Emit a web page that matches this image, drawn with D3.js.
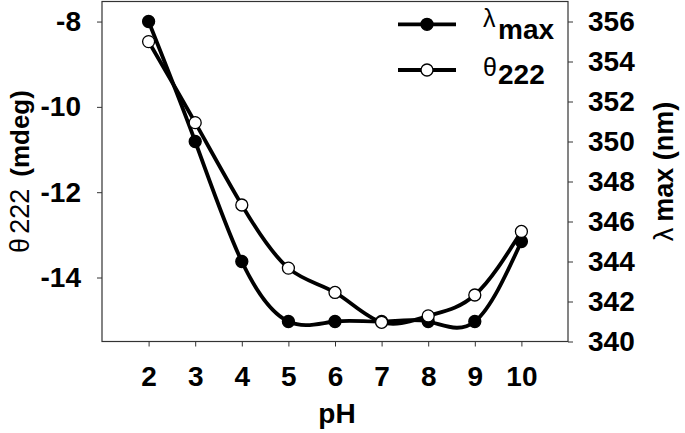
<!DOCTYPE html>
<html>
<head>
<meta charset="utf-8">
<script src="https://cdn.jsdelivr.net/npm/d3@7"></script>
<style>
  body { margin: 0; background: #fff; }
  svg { display: block; font-family: "Liberation Sans", Arial, sans-serif; }
</style>
</head>
<body>
<div id="my_dataviz"></div>
<script>
  // data
  const pH = [2, 3, 4, 5, 6, 7, 8, 9, 10]
  const lambdaMax = [356.0, 350.0, 344.0, 341.0, 341.0, 341.0, 341.0, 341.0, 345.0]
  const theta222 = [-8.47, -10.37, -12.30, -13.78, -14.35, -15.05, -14.90, -14.41, -12.92]
  const xTicks = [2, 3, 4, 5, 6, 7, 8, 9, 10]
  const leftTicks = [-8, -10, -12, -14]
  const rightTicks = [340, 342, 344, 346, 348, 350, 352, 354, 356]

  // set the dimensions and margins of the graph
  const margin = {top: 1.5, right: 117, bottom: 91.5, left: 102},
      width = 685 - margin.left - margin.right,
      height = 433 - margin.top - margin.bottom;

  const svg = d3.select("#my_dataviz")
    .append("svg")
      .attr("width", 685)
      .attr("height", 433)
    .append("g")
      .attr("transform", `translate(${margin.left}, ${margin.top})`);

  const x = d3.scaleLinear().domain([1, 11]).range([0, width]);
  const yL = d3.scaleLinear().domain([-15.5, -7.53]).range([height, 0]);
  const yR = d3.scaleLinear().domain([340, 357]).range([height, 0]);

  const axisColor = "#333";
  const tickFont = "bold 28px 'Liberation Sans', Arial, sans-serif";
  const plain = function(d) { return String(d); }; // keep the hyphen minus

  function styleAxis(g) {
    g.select(".domain").remove();
    g.selectAll(".tick line").attr("stroke", axisColor).attr("stroke-width", 1);
    g.selectAll(".tick text").attr("fill", "#000").style("font", tickFont);
  }

  // frame
  svg.append("rect")
    .attr("x", 0).attr("y", 0)
    .attr("width", width).attr("height", height)
    .attr("fill", "none")
    .attr("stroke", axisColor)
    .attr("stroke-width", 1.2);

  // axes
  svg.append("g")
    .attr("transform", `translate(0, ${height})`)
    .call(d3.axisBottom(x).tickValues(xTicks).tickFormat(plain).tickSize(5).tickPadding(20))
    .call(styleAxis);

  svg.append("g")
    .call(d3.axisLeft(yL).tickValues(leftTicks).tickFormat(plain).tickSize(5).tickPadding(16))
    .call(styleAxis);

  svg.append("g")
    .attr("transform", `translate(${width}, 0)`)
    .call(d3.axisRight(yR).tickValues(rightTicks).tickFormat(plain).tickSize(5).tickPadding(15))
    .call(styleAxis);

  // axis titles
  svg.append("text")
    .attr("x", width / 2 + 2)
    .attr("y", 421.5)
    .attr("text-anchor", "middle")
    .style("font", tickFont)
    .text("pH");

  const leftTitle = svg.append("text")
    .attr("transform", `translate(${-margin.left + 29}, ${height / 2}) rotate(-90)`)
    .attr("text-anchor", "middle")
    .style("font-size", "26px");
  leftTitle.append("tspan").style("font-size", "27px").text("θ");
  leftTitle.append("tspan").attr("dx", 4).style("font-size", "27px").text("222");
  leftTitle.append("tspan").attr("dx", 12).style("font-weight", "bold").text("(mdeg)");

  const rightTitle = svg.append("text")
    .attr("transform", `translate(${width + 105}, ${height / 2}) rotate(-90)`)
    .attr("text-anchor", "middle")
    .style("font-size", "27px");
  rightTitle.append("tspan").text("λ");
  rightTitle.append("tspan").attr("dx", 6).style("font-weight", "bold").text("max (nm)");

  // lines and markers
  const series = [
    {name: "lambda", values: lambdaMax, y: yR, fill: "#000"},
    {name: "theta", values: theta222, y: yL, fill: "#fff"}
  ];

  series.forEach(function(s) {
    const pts = pH.map(function(p, i) { return [p, s.values[i]]; });
    svg.append("path")
      .datum(pts)
      .attr("fill", "none")
      .attr("stroke", "#000")
      .attr("stroke-width", 3.8)
      .attr("d", d3.line()
        .curve(d3.curveNatural)
        .x(function(d) { return x(d[0]); })
        .y(function(d) { return s.y(d[1]); }));
  });

  series.forEach(function(s) {
    svg.selectAll(".pt-" + s.name)
      .data(pH.map(function(p, i) { return [p, s.values[i]]; }))
      .join("circle")
        .attr("cx", function(d) { return x(d[0]); })
        .attr("cy", function(d) { return s.y(d[1]); })
        .attr("r", 6)
        .attr("fill", s.fill)
        .attr("stroke", "#000")
        .attr("stroke-width", 1.3);
  });

  // legend
  const legend = svg.append("g").attr("transform", `translate(${398 - margin.left}, 0)`);
  const rows = [
    {y: 24.3 - margin.top, fill: "#000", sym: "λ", sub: "max", symY: 27, subY: 38.5},
    {y: 70 - margin.top, fill: "#fff", sym: "θ", sub: "222", symY: 75.5, subY: 84}
  ];
  rows.forEach(function(r) {
    legend.append("line")
      .attr("x1", 0).attr("x2", 58)
      .attr("y1", r.y).attr("y2", r.y)
      .attr("stroke", "#000").attr("stroke-width", 3.8);
    legend.append("circle")
      .attr("cx", 29).attr("cy", r.y).attr("r", 6)
      .attr("fill", r.fill).attr("stroke", "#000").attr("stroke-width", 1.3);
    legend.append("text")
      .attr("x", 85).attr("y", r.symY - margin.top)
      .style("font-size", "25px")
      .text(r.sym);
    legend.append("text")
      .attr("x", 100).attr("y", r.subY - margin.top)
      .style("font", tickFont)
      .text(r.sub);
  });
</script>
</body>
</html>
